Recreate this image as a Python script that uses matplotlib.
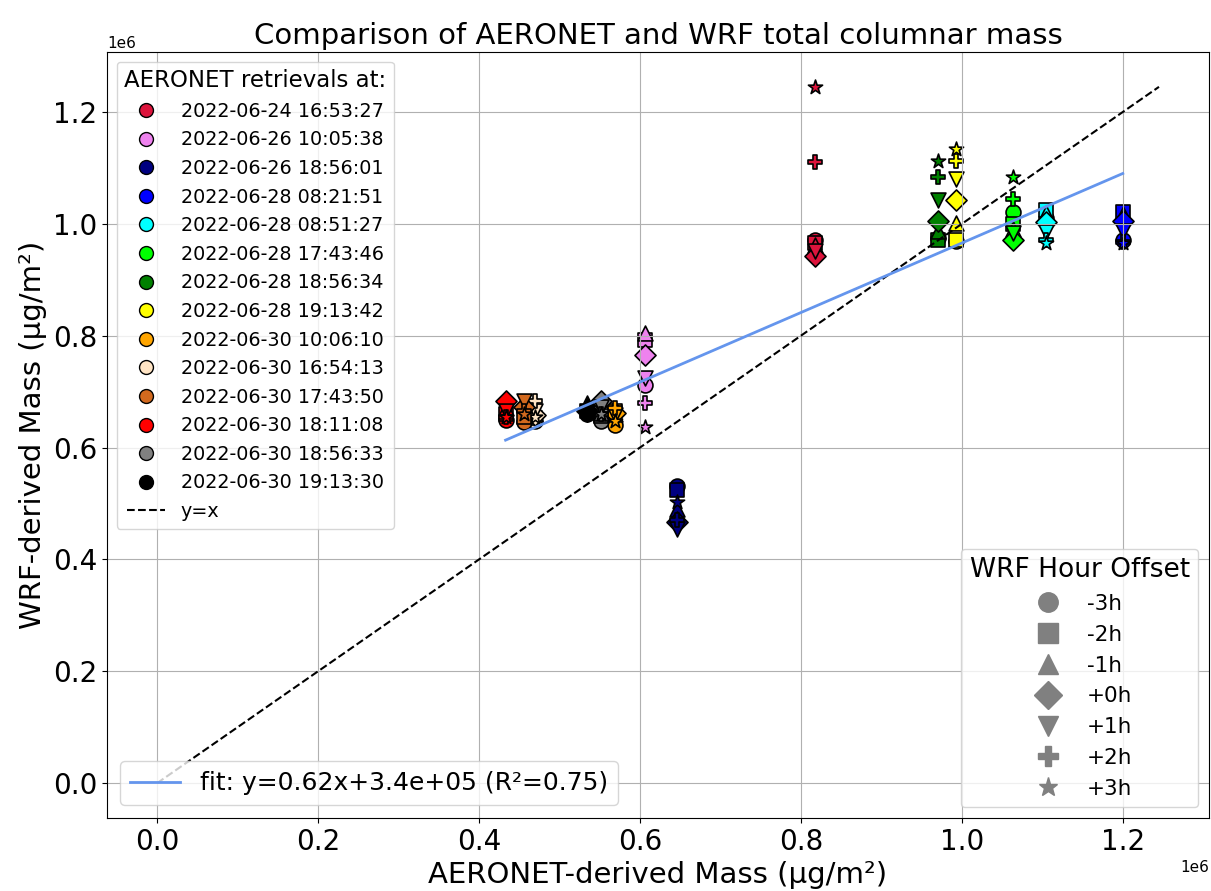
import matplotlib
matplotlib.use("Agg")
import matplotlib.pyplot as plt
from matplotlib.lines import Line2D
import numpy as np

dates = ["2022-06-24 16:53:27", "2022-06-26 10:05:38", "2022-06-26 18:56:01",
         "2022-06-28 08:21:51", "2022-06-28 08:51:27", "2022-06-28 17:43:46",
         "2022-06-28 18:56:34", "2022-06-28 19:13:42", "2022-06-30 10:06:10",
         "2022-06-30 16:54:13", "2022-06-30 17:43:50", "2022-06-30 18:11:08",
         "2022-06-30 18:56:33", "2022-06-30 19:13:30"]
colors = ["crimson", "violet", "navy", "blue", "cyan", "lime", "green",
          "yellow", "orange", "bisque", "chocolate", "red", "gray", "black"]
offsets = ["-3h", "-2h", "-1h", "+0h", "+1h", "+2h", "+3h"]
markers = ["o", "s", "^", "D", "v", "P", "*"]

# AERONET-derived mass per retrieval (ug/m2)
aeronet_mass = np.array([0.817, 0.606, 0.646, 1.200, 1.105, 1.063, 0.971,
                         0.993, 0.569, 0.470, 0.456, 0.433, 0.551, 0.534]) * 1e6

# WRF-derived mass, one row per retrieval, columns = -3h .. +3h
wrf_mass = np.array([
    [0.972, 0.965, 0.962, 0.942, 0.951, 1.111, 1.245],
    [0.712, 0.792, 0.805, 0.766, 0.725, 0.680, 0.636],
    [0.532, 0.525, 0.490, 0.467, 0.455, 0.470, 0.502],
    [0.971, 1.022, 1.018, 1.006, 0.988, 0.968, 0.965],
    [1.010, 1.024, 1.020, 1.004, 0.986, 0.971, 0.965],
    [1.021, 1.000, 0.990, 0.971, 0.983, 1.044, 1.083],
    [0.975, 0.971, 0.988, 1.006, 1.042, 1.083, 1.113],
    [0.970, 0.971, 1.001, 1.042, 1.081, 1.113, 1.133],
    [0.641, 0.666, 0.660, 0.662, 0.658, 0.671, 0.648],
    [0.648, 0.652, 0.660, 0.659, 0.665, 0.684, 0.655],
    [0.645, 0.654, 0.680, 0.672, 0.684, 0.665, 0.660],
    [0.650, 0.660, 0.670, 0.684, 0.665, 0.655, 0.655],
    [0.648, 0.657, 0.662, 0.684, 0.672, 0.660, 0.660],
    [0.660, 0.665, 0.680, 0.665, 0.660, 0.665, 0.670],
]) * 1e6

fig = plt.figure(figsize=(12.11, 8.91), dpi=100)
ax = fig.add_axes([0.0884, 0.082, 0.9100, 0.8596])

for i in range(len(dates)):
    for j in range(len(offsets)):
        ax.scatter(aeronet_mass[i], wrf_mass[i, j], color=colors[i],
                   marker=markers[j], s=115, edgecolor="black", linewidth=1.2)

all_x = np.repeat(aeronet_mass, len(offsets))
all_y = wrf_mass.ravel()
vmax = max(all_x.max(), all_y.max())
yx, = ax.plot([0, vmax], [0, vmax], "k--", linewidth=1.5, label="y=x")

# linear fit on the mean WRF value of each retrieval
wrf_mean = wrf_mass.mean(axis=1)
slope, intercept = np.polyfit(aeronet_mass, wrf_mean, 1)
pred = slope * aeronet_mass + intercept
r2 = 1 - np.sum((wrf_mean - pred) ** 2) / np.sum((wrf_mean - wrf_mean.mean()) ** 2)
xs = np.array([aeronet_mass.min(), aeronet_mass.max()])
fit_line, = ax.plot(xs, slope * xs + intercept, color="cornflowerblue", linewidth=2,
                    label=f"fit: y={slope:.2f}x+{intercept:.1e} (R²={r2:.2f})")

ax.set_title("Comparison of AERONET and WRF total columnar mass", fontsize=21)
ax.set_xlabel("AERONET-derived Mass (µg/m²)", fontsize=21)
ax.set_ylabel("WRF-derived Mass (µg/m²)", fontsize=21)
ax.tick_params(labelsize=20)
ax.xaxis.get_offset_text().set_fontsize(11)
ax.yaxis.get_offset_text().set_fontsize(11)
ax.grid(True)

date_handles = [Line2D([], [], marker="o", linestyle="", markerfacecolor=c,
                       markeredgecolor="black", markersize=10) for c in colors]
leg1 = ax.legend(date_handles + [yx], dates + ["y=x"], loc="upper left",
                 title="AERONET retrievals at:", fontsize=13.8, title_fontsize=16.5)
ax.add_artist(leg1)

off_handles = [Line2D([], [], marker=m, linestyle="", color="gray", markersize=14)
               for m in markers]
leg2 = ax.legend(off_handles, offsets, loc="lower right", title="WRF Hour Offset",
                 fontsize=15.5, title_fontsize=19)
ax.add_artist(leg2)

ax.legend(handles=[fit_line], loc="lower left", fontsize=18)

fig.savefig("out.png", dpi=100)
